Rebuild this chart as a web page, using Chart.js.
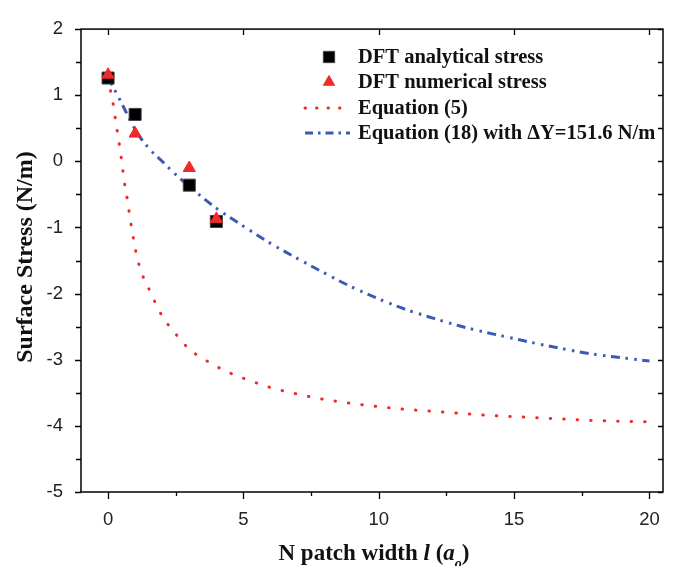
<!DOCTYPE html>
<html>
<head>
<meta charset="utf-8">
<script src="https://cdn.jsdelivr.net/npm/chart.js@4.4.1/dist/chart.umd.min.js"></script>
<style>
html,body{margin:0;padding:0;background:#fff;}
canvas{display:block;}
</style>
</head>
<body>
<canvas id="c" width="690" height="566"></canvas>
<script>
// ---- data ----
const analyticalX = [0, 1, 3, 4];
const analyticalY = [1.26, 0.71, -0.36, -0.91];
const numericalX = [0, 1, 3, 4];
const numericalY = [1.31, 0.42, -0.10, -0.87];

const eq5X = [0, 0.1, 0.2, 0.3, 0.4, 0.5, 0.6, 0.7, 0.8, 0.9, 1.0, 1.1, 1.25, 1.5, 1.75, 2, 2.5, 3, 3.5, 4, 4.5, 5, 6, 7, 8, 9, 10, 11, 12, 13, 14, 15, 16, 17, 18, 19, 20];
const eq5Y = [1.27, 1.05, 0.84, 0.56, 0.30, 0.01, -0.31, -0.55, -0.82, -1.08, -1.31, -1.50, -1.70, -1.92, -2.14, -2.34, -2.61, -2.84, -2.98, -3.10, -3.20, -3.28, -3.42, -3.52, -3.60, -3.66, -3.71, -3.75, -3.78, -3.81, -3.84, -3.86, -3.88, -3.90, -3.92, -3.93, -3.94];

const eq18X = [0, 0.5, 1, 1.5, 2, 2.5, 3, 3.5, 4, 5, 6, 7, 8, 9, 10, 11, 12, 13, 14, 15, 16, 17, 18, 19, 20];
const eq18Y = [1.27, 0.88, 0.48, 0.20, 0.0, -0.20, -0.38, -0.55, -0.71, -0.98, -1.24, -1.47, -1.69, -1.90, -2.08, -2.24, -2.37, -2.49, -2.59, -2.68, -2.77, -2.85, -2.92, -2.97, -3.02];

const seriesLabels = ['DFT analytical stress', 'DFT numerical stress', 'Equation (5)', 'Equation (18) with \u0394Y=151.6 N/m'];
const xTickValues = [0, 5, 10, 15, 20];
const yTickValues = [-5, -4, -3, -2, -1, 0, 1, 2];
const xTitle = ['N patch width ', 'l', ' (', 'a', 'o', ')'];
const yTitle = 'Surface Stress (N/m)';

const pts = (xs, ys) => xs.map((x, i) => ({x: x, y: ys[i]}));

const RED = '#ee2a2a';
const BLUE = '#3c59b3';
const SERIF = '"Liberation Serif", "Times New Roman", serif';
const SANS = '"Liberation Sans", Arial, sans-serif';

function drawDecor(chart) {
  const ctx = chart.ctx;
  const a = chart.chartArea;
  const xs = chart.scales.x, ys = chart.scales.y;
  ctx.save();
  ctx.strokeStyle = '#000';
  ctx.lineWidth = 1.5;
  ctx.strokeRect(a.left, a.top, a.right - a.left, a.bottom - a.top);
  ctx.lineWidth = 1.3;
  ctx.beginPath();
  for (let v = yTickValues[0]; v <= yTickValues[yTickValues.length - 1] + 1e-9; v += 0.5) {
    const y = Math.round(ys.getPixelForValue(v)) + 0.5;
    const major = Math.abs(v - Math.round(v)) < 1e-9;
    ctx.moveTo(a.left - (major ? 6 : 5), y); ctx.lineTo(a.left, y);
    ctx.moveTo(a.right, y); ctx.lineTo(a.right - 5, y);
  }
  for (let v = xTickValues[0]; v <= xTickValues[xTickValues.length - 1] + 1e-9; v += 2.5) {
    const x = Math.round(xs.getPixelForValue(v)) + 0.5;
    const major = Math.abs(v / 5 - Math.round(v / 5)) < 1e-9;
    ctx.moveTo(x, a.bottom); ctx.lineTo(x, a.bottom + (major ? 7 : 4));
    if (major) { ctx.moveTo(x, a.top); ctx.lineTo(x, a.top + 6); }
  }
  ctx.stroke();

  // y title
  ctx.fillStyle = '#111';
  ctx.font = 'bold 24px ' + SERIF;
  ctx.textAlign = 'center';
  ctx.textBaseline = 'middle';
  ctx.save();
  ctx.translate(26, 257);
  ctx.rotate(-Math.PI / 2);
  ctx.fillText(yTitle, 0, 0);
  ctx.restore();

  // x title with mixed styling
  const fonts = ['bold 23px ' + SERIF, 'bold italic 23px ' + SERIF, 'bold 23px ' + SERIF, 'bold italic 23px ' + SERIF, 'bold italic 14px ' + SERIF, 'bold 23px ' + SERIF];
  const offs = [0, 0, 0, 0, 8, 0];
  let total = 0;
  const widths = xTitle.map((t, i) => { ctx.font = fonts[i]; const w = ctx.measureText(t).width; total += w; return w; });
  let x = 374 - total / 2;
  ctx.textAlign = 'left';
  ctx.textBaseline = 'alphabetic';
  xTitle.forEach((t, i) => { ctx.font = fonts[i]; ctx.fillText(t, x, 560 + offs[i]); x += widths[i]; });

  // legend
  const ds = chart.data.datasets;
  const lb = [63, 88, 114, 139];
  const mx = 329, tx = 358;
  for (let i = 0; i < ds.length; i++) {
    const d = ds[i];
    const cy = lb[i] - 6;
    if (d.showLine) {
      ctx.save();
      ctx.strokeStyle = d.borderColor;
      ctx.lineWidth = d.borderWidth;
      ctx.setLineDash(d.legendDash);
      ctx.lineCap = d.borderCapStyle;
      ctx.beginPath();
      ctx.moveTo(305, cy); ctx.lineTo(350, cy);
      ctx.stroke();
      ctx.restore();
    } else {
      ctx.save();
      ctx.fillStyle = d.backgroundColor;
      ctx.strokeStyle = d.borderColor;
      ctx.lineWidth = 1;
      Chart.helpers.drawPoint(ctx, {pointStyle: d.pointStyle, radius: d.pointRadius - 0.5, borderWidth: 1, rotation: 0}, mx, cy);
      ctx.restore();
    }
    ctx.fillStyle = '#111';
    ctx.font = 'bold 20.5px ' + SERIF;
    ctx.textAlign = 'left';
    ctx.textBaseline = 'alphabetic';
    ctx.fillText(d.label, tx, lb[i]);
  }
  ctx.restore();
}

new Chart(document.getElementById('c'), {
  type: 'scatter',
  data: {
    datasets: [
      {label: seriesLabels[0], data: pts(analyticalX, analyticalY), pointStyle: 'rect', pointRadius: 8.5, backgroundColor: '#000', borderColor: '#444', borderWidth: 1, showLine: false, order: 1},
      {label: seriesLabels[1], data: pts(numericalX, numericalY), pointStyle: 'triangle', pointRadius: 7, backgroundColor: RED, borderColor: RED, borderWidth: 1, showLine: false, order: 0},
      {label: seriesLabels[2], data: pts(eq5X, eq5Y), showLine: true, pointRadius: 0, borderColor: RED, backgroundColor: RED, borderWidth: 3, borderDash: [0.5, 13], legendDash: [0.5, 11], borderCapStyle: 'round', cubicInterpolationMode: 'monotone', order: 3},
      {label: seriesLabels[3], data: pts(eq18X, eq18Y), showLine: true, pointRadius: 0, borderColor: BLUE, backgroundColor: BLUE, borderWidth: 3, borderDash: [9, 5.5, 2.5, 6.5, 2.5, 5.5], legendDash: [8, 5, 2.5, 5], borderCapStyle: 'butt', cubicInterpolationMode: 'monotone', order: 2}
    ]
  },
  options: {
    responsive: false,
    animation: false,
    events: [],
    layout: {padding: {top: 18, right: 27, left: 0, bottom: 0}},
    plugins: {legend: {display: false}, tooltip: {enabled: false}},
    scales: {
      x: {
        type: 'linear', min: -1, max: 20.5,
        afterBuildTicks: s => { s.ticks = xTickValues.map(v => ({value: v})); },
        afterFit: s => { s.height = 74; },
        grid: {display: false, drawTicks: false},
        border: {display: false},
        ticks: {padding: 17, color: '#222', font: {family: SANS, size: 18.5}, autoSkip: false, maxRotation: 0}
      },
      y: {
        type: 'linear', min: -5, max: 2,
        afterBuildTicks: s => { s.ticks = yTickValues.map(v => ({value: v})); },
        afterFit: s => { s.width = 81; },
        grid: {display: false, drawTicks: false},
        border: {display: false},
        ticks: {padding: 18, color: '#222', font: {family: SANS, size: 18.5}}
      }
    }
  },
  plugins: [{ id: 'decor', afterDraw: drawDecor }]
});
</script>
</body>
</html>
